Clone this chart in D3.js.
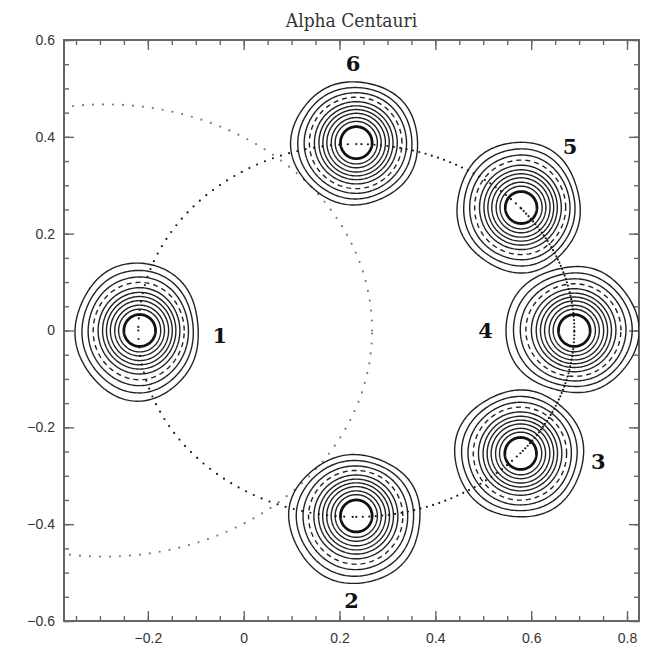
<!DOCTYPE html>
<html><head><meta charset="utf-8">
<script src="https://cdn.jsdelivr.net/npm/d3@7"></script>
<style>
html,body{margin:0;padding:0;background:#fff;}
svg{display:block;}
</style></head><body>
<script>
// Image positions of the six exposures (offset units) and their labels
const sourceLabels = ["1", "2", "3", "4", "5", "6"];
const sourceX = [-0.217, 0.235, 0.578, 0.690, 0.579, 0.235];
const sourceY = [0.000, -0.383, -0.254, 0.000, 0.254, 0.388];
// Reach of the outermost contour in each direction: right, up, left, down
const extentRight = [0.123, 0.134, 0.131, 0.134, 0.123, 0.129];
const extentUp    = [0.140, 0.126, 0.130, 0.132, 0.136, 0.126];
const extentLeft  = [0.134, 0.140, 0.138, 0.144, 0.134, 0.136];
const extentDown  = [0.145, 0.140, 0.132, 0.128, 0.134, 0.128];
// Label anchor positions (data units)
const labelX = [-0.05, 0.225, 0.74, 0.505, 0.681, 0.228];
const labelY = [-0.01, -0.557, -0.27, 0.0, 0.38, 0.552];
// Contour levels, given as nominal radius, innermost first
const ringRadii = [0.033, 0.044, 0.052, 0.061, 0.069, 0.077, 0.086, 0.096, 0.106, 0.118, 0.131];
const ringKind  = ["thick", "solid", "solid", "solid", "solid", "solid", "solid", "dashed", "solid", "solid", "solid"];
// Path of the rotating field (ellipse through the six exposures)
const orbitCenter = [0.235, 0.0];
const orbitAxes = [0.455, 0.385];
// Outer field boundary arc
const fieldCenter = [-0.29, 0.0];
const fieldAxes = [0.558, 0.467];
// Axis ticks
const xMajor = [-0.2, 0, 0.2, 0.4, 0.6, 0.8];
const yMajor = [-0.6, -0.4, -0.2, 0, 0.2, 0.4, 0.6];
const xMinor = d3.range(-7, 17).map(i => i * 0.05);
const yMinor = d3.range(-12, 13).map(i => i * 0.05);
const title = "Alpha Centauri";

const W = 651, H = 649;
const pL = 64, pR = 639, pT = 40, pB = 621;
const x = d3.scaleLinear([-0.375, 0.825], [pL, pR]);
const y = d3.scaleLinear([-0.6, 0.6], [pB, pT]);

const svg = d3.select("body").append("svg").attr("width", W).attr("height", H);
svg.append("defs").append("clipPath").attr("id", "plot")
  .append("rect").attr("x", pL).attr("y", pT).attr("width", pR - pL).attr("height", pB - pT);

const fmt = d => Math.abs(d) < 1e-9 ? "0" : d3.format(".1f")(d);
const axisColor = "#666";

// Axes with inward ticks on all four sides
function styleAxis(g) {
  g.select(".domain").remove();
  g.selectAll(".tick line").attr("stroke", axisColor).attr("stroke-width", 1.4);
  g.selectAll(".tick text").attr("fill", "#333")
    .style("font-family", "'Liberation Sans', Arial, sans-serif").style("font-size", "14px");
}
svg.append("g").attr("transform", `translate(0,${pB})`)
  .call(d3.axisBottom(x).tickValues(xMinor).tickSize(-5).tickFormat("")).call(styleAxis);
svg.append("g").attr("transform", `translate(0,${pB})`)
  .call(d3.axisBottom(x).tickValues(xMajor).tickSize(-10).tickPadding(12).tickFormat(fmt)).call(styleAxis);
svg.append("g").attr("transform", `translate(0,${pT})`)
  .call(d3.axisTop(x).tickValues(xMinor).tickSize(-5).tickFormat("")).call(styleAxis);
svg.append("g").attr("transform", `translate(0,${pT})`)
  .call(d3.axisTop(x).tickValues(xMajor).tickSize(-10).tickFormat("")).call(styleAxis);
svg.append("g").attr("transform", `translate(${pL},0)`)
  .call(d3.axisLeft(y).tickValues(yMinor).tickSize(-5).tickFormat("")).call(styleAxis);
svg.append("g").attr("transform", `translate(${pL},0)`)
  .call(d3.axisLeft(y).tickValues(yMajor).tickSize(-10).tickPadding(9).tickFormat(fmt)).call(styleAxis);
svg.append("g").attr("transform", `translate(${pR},0)`)
  .call(d3.axisRight(y).tickValues(yMinor).tickSize(-5).tickFormat("")).call(styleAxis);
svg.append("g").attr("transform", `translate(${pR},0)`)
  .call(d3.axisRight(y).tickValues(yMajor).tickSize(-10).tickFormat("")).call(styleAxis);

svg.append("rect").attr("x", pL).attr("y", pT).attr("width", pR - pL).attr("height", pB - pT)
  .attr("fill", "none").attr("stroke", axisColor).attr("stroke-width", 2);

svg.append("text").attr("x", (pL + pR) / 2).attr("y", 27).attr("text-anchor", "middle")
  .style("font-family", "'DejaVu Serif', serif").style("font-stretch", "condensed")
  .style("font-size", "19px").attr("fill", "#333").text(title);

const plot = svg.append("g").attr("clip-path", "url(#plot)");
const closedLine = d3.line().curve(d3.curveLinearClosed);
const openLine = d3.line();

// Ellipse sampled between two parameter angles (radians)
function ellipsePts(c, ax, a0, a1, n) {
  return d3.range(n + 1).map(i => {
    const t = a0 + (a1 - a0) * i / n;
    return [x(c[0] + ax[0] * Math.cos(t)), y(c[1] + ax[1] * Math.sin(t))];
  });
}

// Outer field boundary: faint sparse dots
plot.append("path").attr("d", openLine(ellipsePts(fieldCenter, fieldAxes, 0, 2 * Math.PI, 400)))
  .attr("fill", "none").attr("stroke", "#777").attr("stroke-width", 2.2)
  .attr("stroke-linecap", "round").attr("stroke-dasharray", "0 10");

// Contours of each exposure; outer levels follow the lopsided outline and wobble slightly
const r0 = ringRadii[0], rN = ringRadii[ringRadii.length - 1];
sourceX.forEach((cx, k) => {
  const cy = sourceY[k];
  const g = plot.append("g");
  ringRadii.forEach((rr, j) => {
    const t = Math.pow((rr - r0) / (rN - r0), 1.4);
    const pts = d3.range(180).map(i => {
      const th = i / 180 * 2 * Math.PI;
      const c = Math.cos(th), s = Math.sin(th);
      const ex = c >= 0 ? extentRight[k] : extentLeft[k];
      const ey = s >= 0 ? extentUp[k] : extentDown[k];
      const e = 1 / Math.sqrt((c / ex) ** 2 + (s / ey) ** 2);
      const f = e / rN;
      const wob = 1 + 0.01 * Math.pow(t, 3) * Math.sin(5 * th + 1.3 * k + j * 0.4);
      const r = rr * (1 + t * (f - 1)) * wob;
      return [x(cx + r * c), y(cy + r * s)];
    });
    const p = g.append("path").attr("d", closedLine(pts)).attr("fill", "none").attr("stroke", "#222");
    if (ringKind[j] === "thick") p.attr("stroke-width", 2.8).attr("stroke", "#111");
    else if (ringKind[j] === "dashed") p.attr("stroke-width", 1.4).attr("stroke-dasharray", "5 4");
    else p.attr("stroke-width", 1.4);
  });
});

// Field-rotation track through the exposures, denser near 3-4-5
const angles = sourceX.map((sx, k) => Math.atan2((sourceY[k] - orbitCenter[1]) / orbitAxes[1], (sx - orbitCenter[0]) / orbitAxes[0]));
const order = [3, 4, 5, 0, 1, 2]; // 4,5,6,1,2,3 going round
const dotGap = [3.5, 6.5, 8.5, 8.5, 6.5, 3.5];
order.forEach((k, i) => {
  let a0 = angles[k], a1 = angles[order[(i + 1) % order.length]];
  while (a1 <= a0) a1 += 2 * Math.PI;
  plot.append("path").attr("d", openLine(ellipsePts(orbitCenter, orbitAxes, a0, a1, 200)))
    .attr("fill", "none").attr("stroke", "#1a1a1a").attr("stroke-width", 2.2)
    .attr("stroke-linecap", "round").attr("stroke-dasharray", `0 ${dotGap[i]}`);
});

// Exposure labels
svg.append("g").selectAll("text").data(sourceLabels).join("text")
  .attr("x", (d, i) => x(labelX[i])).attr("y", (d, i) => y(labelY[i]))
  .attr("text-anchor", "middle").attr("dominant-baseline", "central")
  .style("font-family", "'DejaVu Serif', serif").style("font-weight", "bold").style("font-size", "21px")
  .attr("fill", "#111").text(d => d);
</script>
</body></html>
